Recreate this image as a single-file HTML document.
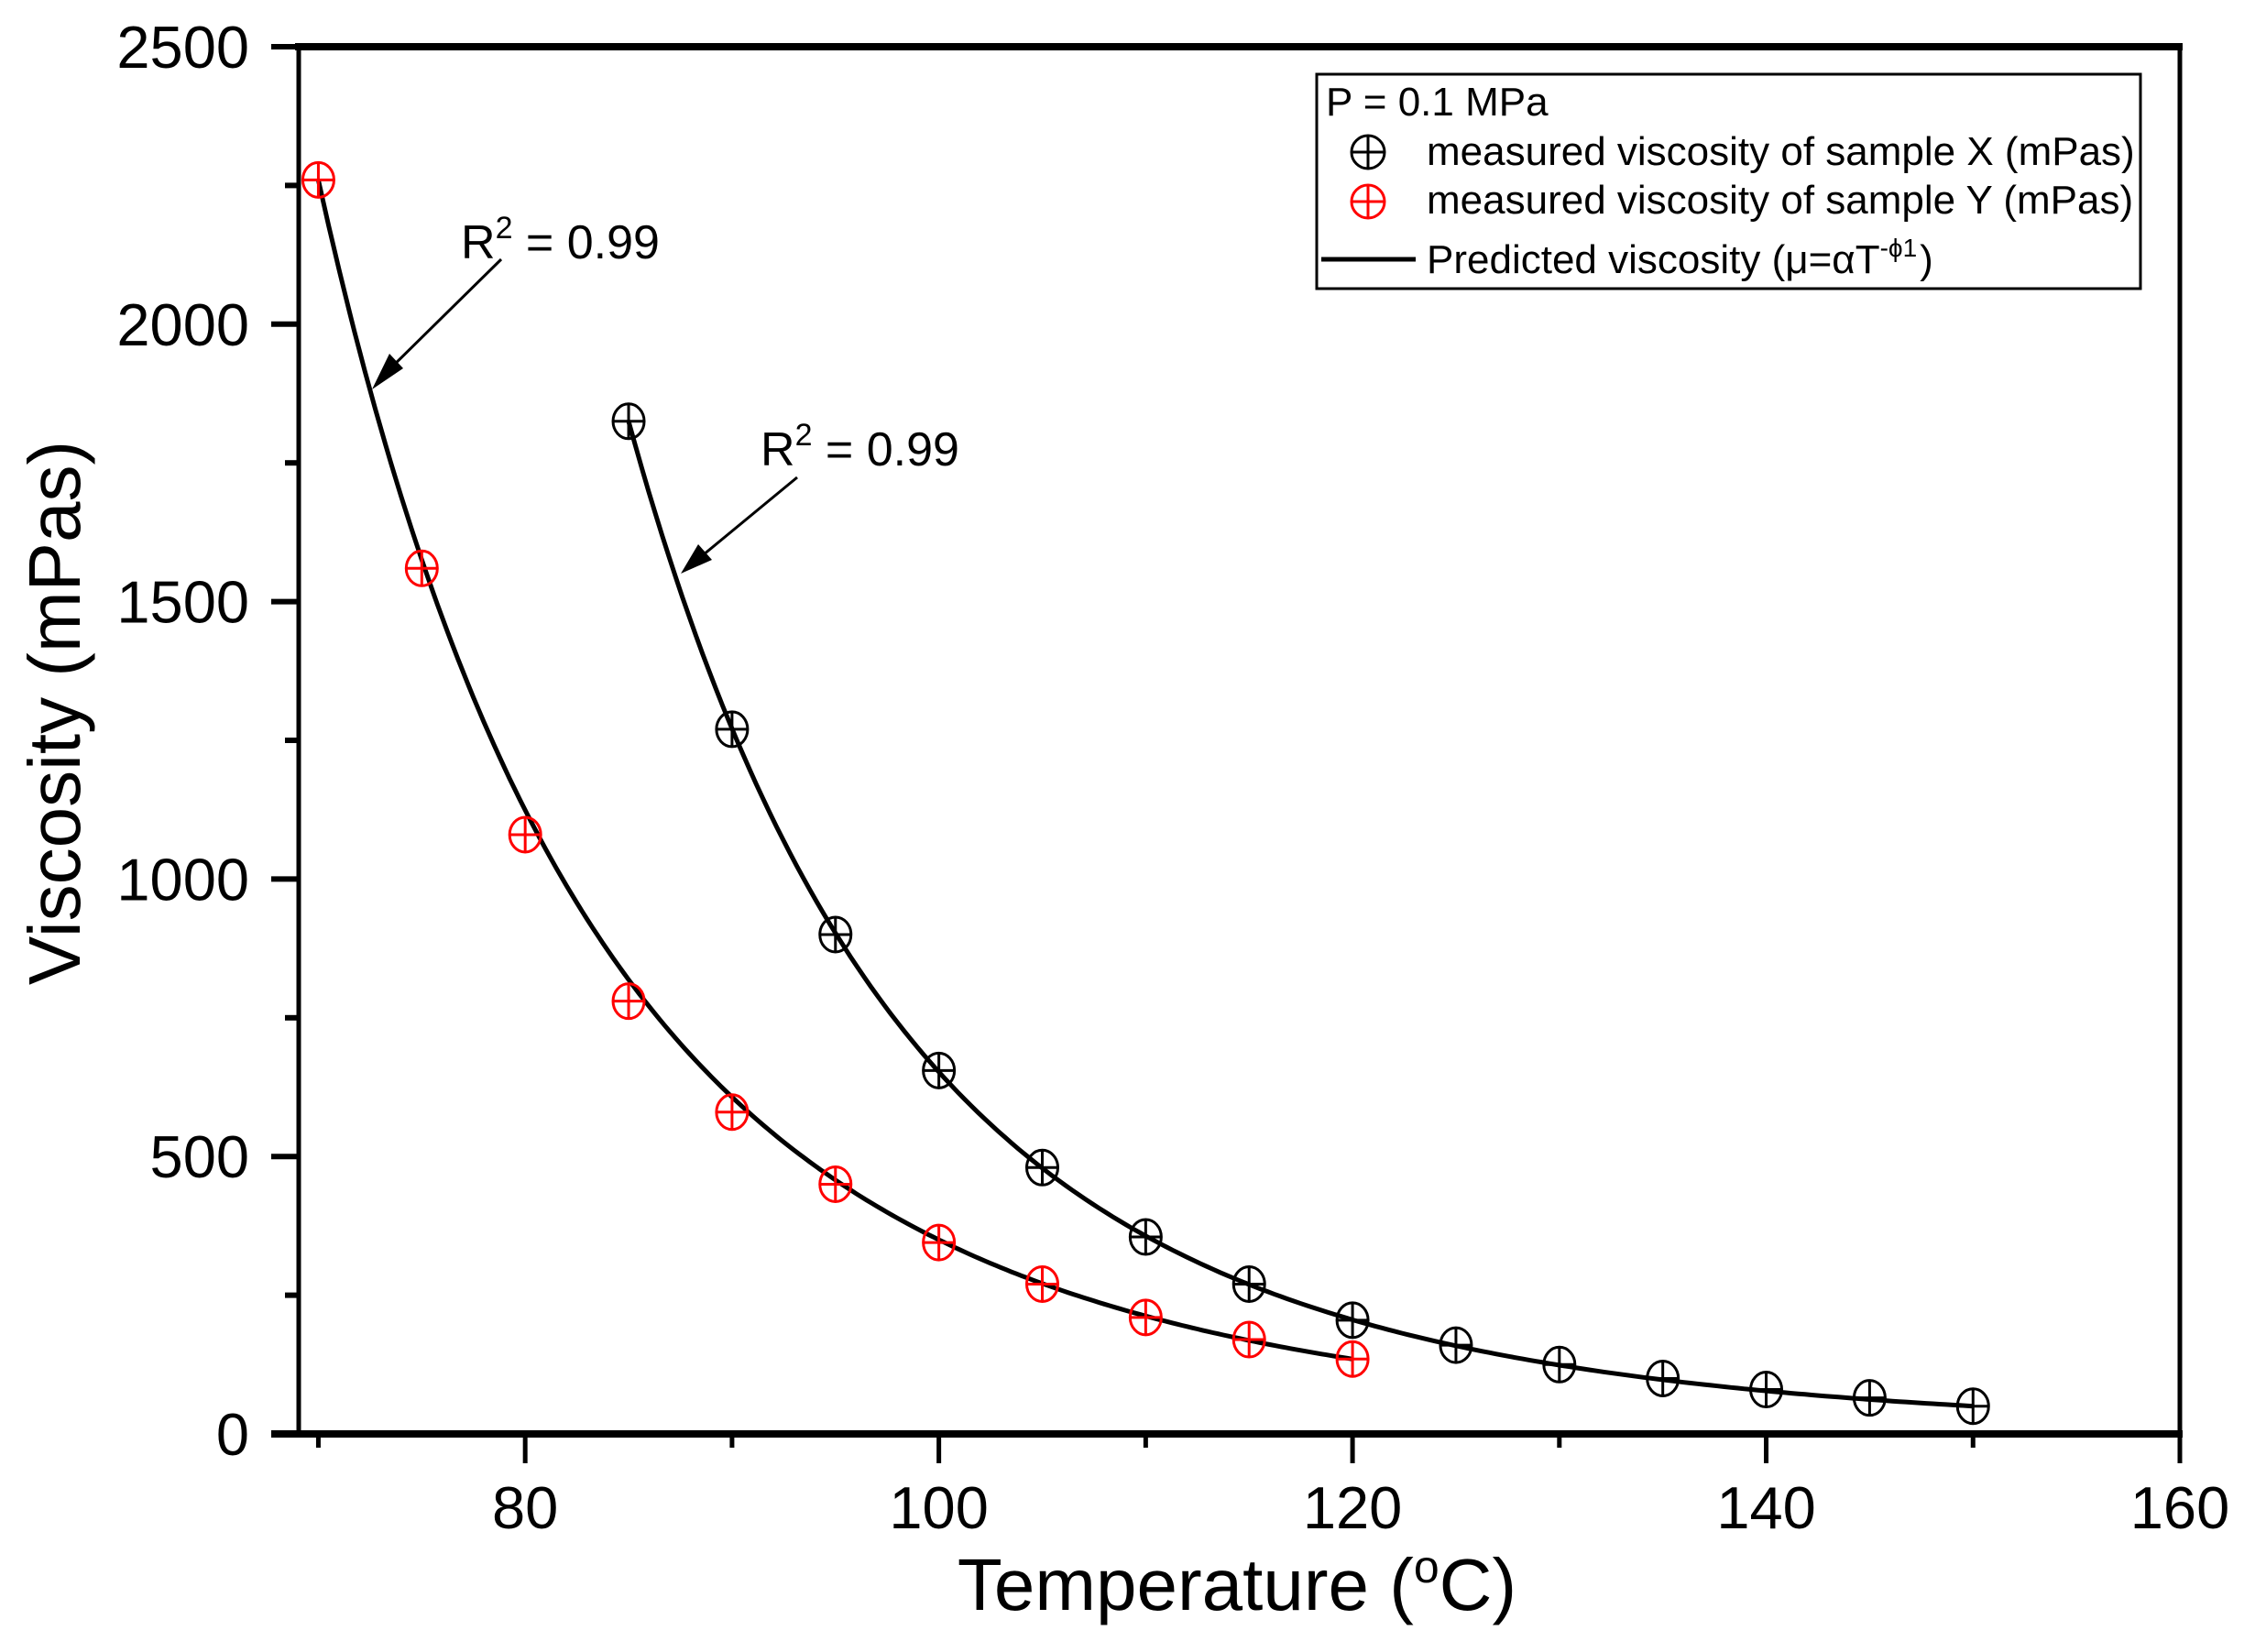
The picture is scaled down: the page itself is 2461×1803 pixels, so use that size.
<!DOCTYPE html>
<html><head><meta charset="utf-8"><style>
html,body{margin:0;padding:0;background:#fff;}
svg{display:block;font-family:"Liberation Sans",Arial,sans-serif;}
</style></head><body>
<svg id="chart" width="2461" height="1803" viewBox="0 0 2461 1803" xmlns="http://www.w3.org/2000/svg">
<g id="grid-layer"></g>
</svg>
<script>
const tempsX = [85,90,95,100,105,110,115,120,125,130,135,140,145,150];
const viscX = [1825,1270,900,655,480,355,270,205,160,125,100,80,65,50];
const tempsY = [70,75,80,85,90,95,100,105,110,115,120];
const viscY = [2260,1560,1080,780,580,450,345,270,210,170,135];
const fitAlpha = [1825, 2260];
const fitPhi = [6.33, 5.23];
const fitT0 = [85, 70];
const fitRange = [[85,150],[70,120]];
const xTicks = [80,100,120,140,160];
const xMinor = [70,90,110,130,150];
const yTicks = [0,500,1000,1500,2000,2500];
const yMinor = [250,750,1250,1750,2250];

const NS='http://www.w3.org/2000/svg';
const svg=document.getElementById('chart');
const L=326,R=2379,T=51,B=1565;
const xMin=69.05,xMax=160,yMin=0,yMax=2500;
function sx(v){return L+(v-xMin)/(xMax-xMin)*(R-L);}
function sy(v){return B-(v-yMin)/(yMax-yMin)*(B-T);}
function mk(tag,attrs,parent){const e=document.createElementNS(NS,tag);for(const k in attrs)e.setAttribute(k,attrs[k]);(parent||svg).appendChild(e);return e;}

for(let s=0;s<2;s++){
  let d='';
  const [a,b]=fitRange[s];
  for(let i=0;i<=200;i++){const t=a+(b-a)*i/200;const v=fitAlpha[s]*Math.pow(fitT0[s]/t,fitPhi[s]);d+=(i?'L':'M')+sx(t).toFixed(1)+' '+sy(v).toFixed(1);}
  const p=mk('path',{d:d,fill:'none',stroke:'#000','stroke-width':5});
  
  
}
function marker(cx,cy,col,name){
  const g=mk('g',{});
  
  
  mk('ellipse',{cx:cx,cy:cy,rx:17,ry:19,fill:'none',stroke:col,'stroke-width':3},g);
  mk('line',{x1:cx-17,y1:cy,x2:cx+17,y2:cy,stroke:col,'stroke-width':3},g);
  mk('line',{x1:cx,y1:cy-19,x2:cx,y2:cy+19,stroke:col,'stroke-width':3},g);
}
tempsX.forEach((t,i)=>marker(sx(t),sy(viscX[i]),'#000','point-x-'+t));
tempsY.forEach((t,i)=>marker(sx(t),sy(viscY[i]),'#ff0000','point-y-'+t));

const ax=mk('g',{});


mk('line',{x1:L-4,y1:T,x2:R+3,y2:T,stroke:'#000','stroke-width':8},ax);
mk('line',{x1:L,y1:T,x2:L,y2:B,stroke:'#000','stroke-width':5},ax);
mk('line',{x1:R,y1:T,x2:R,y2:B+30,stroke:'#000','stroke-width':5},ax);
mk('line',{x1:L-30,y1:B,x2:R+3,y2:B,stroke:'#000','stroke-width':8},ax);

yTicks.forEach(v=>{
  mk('line',{x1:L-30,y1:sy(v),x2:L,y2:sy(v),stroke:'#000','stroke-width':6});
  const t=mk('text',{x:272,y:sy(v)+23,'text-anchor':'end','font-size':65});
  t.textContent=v;
  
  
});
yMinor.forEach(v=>mk('line',{x1:L-15,y1:sy(v),x2:L,y2:sy(v),stroke:'#000','stroke-width':6}));
xTicks.forEach(v=>{
  mk('line',{x1:sx(v),y1:B,x2:sx(v),y2:B+32,stroke:'#000','stroke-width':5});
  const t=mk('text',{x:sx(v),y:1668,'text-anchor':'middle','font-size':65});
  t.textContent=v;
  
  
});
xMinor.forEach(v=>mk('line',{x1:sx(v),y1:B,x2:sx(v),y2:B+15,stroke:'#000','stroke-width':5}));
</script>
<svg style="position:absolute;left:0;top:0" width="2461" height="1803" xmlns="http://www.w3.org/2000/svg" font-family="Liberation Sans, Arial, sans-serif">
<text x="1350" y="1757" text-anchor="middle" font-size="80">Temperature (<tspan font-size="50" dy="-30">o</tspan><tspan dy="30">C)</tspan></text>
<text transform="translate(87,778) rotate(-90)" text-anchor="middle" font-size="80">Viscosity (mPas)</text>
<g>
<text x="503" y="282" font-size="52">R<tspan font-size="34" dy="-22">2</tspan><tspan dy="22"> = 0.99</tspan></text>
<line x1="547" y1="283" x2="418" y2="410" stroke="#000" stroke-width="3"/>
<polygon points="406,425 425,386 440,402" fill="#000"/>
</g>
<g>
<text x="830" y="508" font-size="52">R<tspan font-size="34" dy="-22">2</tspan><tspan dy="22"> = 0.99</tspan></text>
<line x1="870" y1="521" x2="756" y2="615" stroke="#000" stroke-width="3"/>
<polygon points="743,626 762,594 777,611" fill="#000"/>
</g>
<g>
<rect x="1437" y="81" width="899" height="234" fill="#fff" stroke="#000" stroke-width="3"/>
<text x="1447" y="126" font-size="44">P = 0.1 MPa</text>
<g>
<ellipse cx="1493" cy="166" rx="18" ry="18" fill="none" stroke="#000" stroke-width="3"/>
<line x1="1475" y1="166" x2="1511" y2="166" stroke="#000" stroke-width="3"/><line x1="1493" y1="148" x2="1493" y2="184" stroke="#000" stroke-width="3"/>
<text x="1557" y="180" font-size="44">measured viscosity of sample X (mPas)</text>
</g>
<g>
<ellipse cx="1493" cy="220" rx="18" ry="18" fill="none" stroke="#ff0000" stroke-width="3"/>
<line x1="1475" y1="220" x2="1511" y2="220" stroke="#ff0000" stroke-width="3"/><line x1="1493" y1="202" x2="1493" y2="238" stroke="#ff0000" stroke-width="3"/>
<text x="1557" y="233" font-size="44">measured viscosity of sample Y (mPas)</text>
</g>
<g>
<line x1="1442" y1="283" x2="1545" y2="283" stroke="#000" stroke-width="5"/>
<text x="1557" y="298" font-size="44">Predicted viscosity (μ=αT<tspan font-size="28" dy="-18">-ϕ1</tspan><tspan dy="18" dx="3">)</tspan></text>
</g>
</g>
</svg>
</body></html>
